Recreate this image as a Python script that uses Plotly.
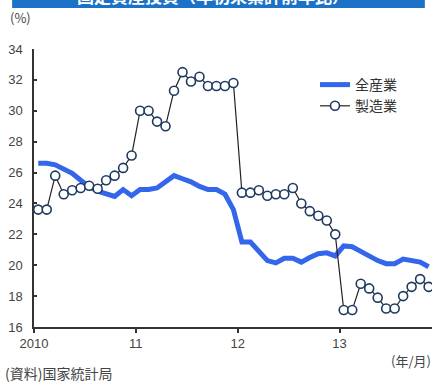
import plotly.graph_objects as go

# Monthly index: Jan 2010 (0) .. Nov 2013 (46)
months = list(range(47))

# Fixed-asset investment, year-to-date y/y growth (%)
all_industry = [
    26.6, 26.6, 26.5, 26.2, 25.95, 25.5, 25.1, 24.8, 24.6, 24.45, 24.9, 24.5,
    24.9, 24.9, 25.0, 25.4, 25.8, 25.6, 25.4, 25.1, 24.9, 24.9, 24.6, 23.6,
    21.5, 21.5, 20.9, 20.3, 20.15, 20.45, 20.45, 20.2, 20.5, 20.75, 20.8, 20.6,
    21.25, 21.2, 20.9, 20.6, 20.3, 20.1, 20.1, 20.4, 20.3, 20.2, 19.9,
]
manufacturing = [
    23.6, 23.6, 25.8, 24.6, 24.85, 25.0, 25.15, 24.95, 25.5, 25.8, 26.3, 27.1,
    30.0, 30.0, 29.3, 29.0, 31.3, 32.5, 31.9, 32.2, 31.6, 31.6, 31.6, 31.8,
    24.7, 24.7, 24.85, 24.5, 24.6, 24.6, 25.0, 24.0, 23.5, 23.2, 22.9, 22.0,
    17.1, 17.1, 18.8, 18.5, 17.9, 17.2, 17.2, 18.0, 18.6, 19.1, 18.6,
]

year_tick_vals = [-0.5, 11.5, 23.5, 35.5]
year_tick_text = ["2010", "11", "12", "13"]
y_ticks = list(range(16, 35, 2))

FONT = "Arial, 'Liberation Sans', 'Noto Sans CJK JP', sans-serif"
JP_FONT = "'Noto Sans CJK JP', sans-serif"
TEXT_GREY = "#444444"

fig = go.Figure()
fig.add_trace(go.Scatter(
    x=months, y=all_industry, name="全産業", mode="lines",
    line=dict(color="#3366ea", width=5),
))
fig.add_trace(go.Scatter(
    x=months, y=manufacturing, name="製造業", mode="lines+markers",
    line=dict(color="#222222", width=1.2),
    marker=dict(symbol="circle", size=9, color="white",
                line=dict(color="#1f3a60", width=1.6)),
))

fig.update_layout(
    width=438, height=382,
    margin=dict(l=34, r=6, t=49, b=55),
    paper_bgcolor="white", plot_bgcolor="white",
    font=dict(family=FONT, size=12, color=TEXT_GREY),
    showlegend=True,
    legend=dict(
        x=0.706, y=0.928, xanchor="left", yanchor="top",
        bgcolor="rgba(0,0,0,0)", borderwidth=0,
        font=dict(family=JP_FONT, size=14, color="#333333"),
        itemwidth=30, tracegroupgap=2,
    ),
    xaxis=dict(
        range=[-0.5, 46.4], showgrid=False, zeroline=False,
        showline=True, linecolor="#333333", linewidth=1.5,
        tickmode="array", tickvals=year_tick_vals, ticktext=year_tick_text,
        ticks="outside", ticklen=4, tickcolor="#333333", tickwidth=1.5,
        tickfont=dict(size=13, color=TEXT_GREY),
    ),
    yaxis=dict(
        range=[16, 34], showgrid=False, zeroline=False,
        showline=True, linecolor="#333333", linewidth=1.5,
        tickmode="array", tickvals=y_ticks,
        ticks="inside", ticklen=3, tickcolor="#333333", tickwidth=1.5,
        ticklabelstandoff=7,
        tickfont=dict(size=13, color=TEXT_GREY),
    ),
)

# Header banner (runs off the top edge of the page)
fig.add_shape(type="rect", xref="paper", yref="paper",
              x0=-0.055, x1=0.982, y0=(327 - 8) / 278, y1=1.3,
              fillcolor="#1b72c6", line=dict(width=0), layer="above")
fig.add_annotation(text="<b>固定資産投資（年初来累計前年比）</b>",
                   xref="paper", yref="paper", x=0.45, y=(327 + 5) / 278,
                   xanchor="center", yanchor="middle", showarrow=False,
                   font=dict(family=JP_FONT, size=17, color="white"))

fig.add_annotation(text="(%)", xref="paper", yref="paper",
                   x=(8 - 34) / 398, y=(327 - 17) / 278,
                   xanchor="left", yanchor="middle", showarrow=False,
                   font=dict(family=JP_FONT, size=13, color=TEXT_GREY))
fig.add_annotation(text="(年/月)", xref="paper", yref="paper",
                   x=(433 - 34) / 398, y=(327 - 360) / 278,
                   xanchor="right", yanchor="middle", showarrow=False,
                   font=dict(family=JP_FONT, size=13, color=TEXT_GREY))
fig.add_annotation(text="(資料)国家統計局", xref="paper", yref="paper",
                   x=(3 - 34) / 398, y=(327 - 373) / 278,
                   xanchor="left", yanchor="middle", showarrow=False,
                   font=dict(family=JP_FONT, size=14, color=TEXT_GREY))

fig.write_html("out.html")
